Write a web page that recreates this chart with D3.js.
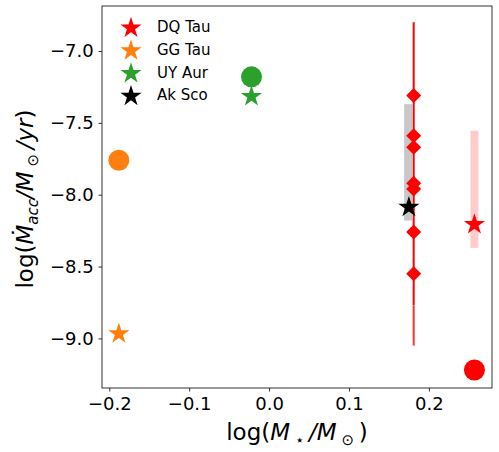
<!DOCTYPE html>
<html>
<head>
<meta charset="utf-8">
<script src="https://cdn.jsdelivr.net/npm/d3@7"></script>
<style>
  body { margin: 0; background: #fff; }
  svg text { font-family: "DejaVu Sans", sans-serif; }
</style>
</head>
<body>
<svg id="chart" width="499" height="452"></svg>
<script>
// data
const starNames = ["DQ Tau", "GG Tau", "UY Aur", "Ak Sco"];
const starColors = ["#ff0000", "#ff7f0e", "#2ca02c", "#000000"];

// star markers: [logM, logMdot]
const starPts = [[0.257, -8.20], [-0.188, -8.96], [-0.022, -7.31], [0.175, -8.08]];
// circle markers (Ak Sco has none)
const circlePts = [[0.257, -9.22], [-0.188, -7.76], [-0.022, -7.18]];
const circleColors = ["#ff0000", "#ff7f0e", "#2ca02c"];

// DQ Tau diamonds at one mass
const dqMass = 0.181;
const dqDiamonds = [-7.31, -7.59, -7.67, -7.92, -7.96, -8.26, -8.55];
const dqBar = [-6.80, -8.77];
const dqBarFaint = [-8.77, -9.05];

// shaded ranges: [x, ymin, ymax]
const rangeBars = [
  { x: 0.174, lo: -8.18, hi: -7.37, color: "#c8c8c8" },
  { x: 0.257, lo: -8.37, hi: -7.555, color: "#ffcccc" }
];

const xTicks = [-0.2, -0.1, 0.0, 0.1, 0.2];
const yTicks = [-7.0, -7.5, -8.0, -8.5, -9.0];

const svg = d3.select("#chart");
const L = 102, R = 492, T = 6, B = 388;

const x = d3.scaleLinear().domain([-0.2091, 0.279]).range([L, R]);
const y = d3.scaleLinear().domain([-6.687, -9.345]).range([T, B]);

// shaded bars
svg.selectAll("rect.rng").data(rangeBars).join("rect")
  .attr("class", "rng")
  .attr("x", d => x(d.x) - 4)
  .attr("width", 8)
  .attr("y", d => y(d.hi))
  .attr("height", d => y(d.lo) - y(d.hi))
  .style("fill", d => d.color);

// DQ Tau error line
svg.append("line")
  .attr("x1", x(dqMass)).attr("x2", x(dqMass))
  .attr("y1", y(dqBar[0])).attr("y2", y(dqBar[1]))
  .style("stroke", "#ff0000").style("stroke-width", 2);
svg.append("line")
  .attr("x1", x(dqMass)).attr("x2", x(dqMass))
  .attr("y1", y(dqBarFaint[0])).attr("y2", y(dqBarFaint[1]))
  .style("stroke", "#ff0000").style("stroke-width", 2).style("opacity", 0.8);

const diamond = d3.symbol().type(d3.symbolSquare).size(112);
svg.selectAll("path.dia").data(dqDiamonds).join("path")
  .attr("class", "dia")
  .attr("d", diamond)
  .attr("transform", d => "translate(" + x(dqMass) + "," + y(d) + ") rotate(45)")
  .style("fill", "#ff0000");

// circles
svg.selectAll("circle.pt").data(circlePts).join("circle")
  .attr("class", "pt")
  .attr("cx", d => x(d[0]))
  .attr("cy", d => y(d[1]))
  .attr("r", 10.5)
  .style("fill", (d, i) => circleColors[i]);

// stars
const star = d3.symbol().type(d3.symbolStar).size(140);
svg.selectAll("path.star").data(starPts).join("path")
  .attr("class", "star")
  .attr("d", star)
  .attr("transform", d => "translate(" + x(d[0]) + "," + (y(d[1]) + 1) + ")")
  .style("fill", (d, i) => starColors[i]);

// axes
const xAxis = d3.axisBottom(x).tickValues(xTicks).tickFormat(d3.format(".1f")).tickSize(3.5).tickSizeOuter(0);
const yAxis = d3.axisLeft(y).tickValues(yTicks).tickFormat(d3.format(".1f")).tickSize(3.5).tickSizeOuter(0);

const gx = svg.append("g").attr("transform", "translate(0," + B + ")").call(xAxis);
const gy = svg.append("g").attr("transform", "translate(" + L + ",0)").call(yAxis);
[gx, gy].forEach(g => {
  g.select(".domain").remove();
  g.selectAll("line").style("stroke", "#000").style("stroke-width", 0.8);
  g.selectAll("text").style("font-size", "18px").style("fill", "#000");
});
gx.selectAll("text").attr("dy", "0.85em");
gy.selectAll("text").attr("dx", "-0.1em");

// frame
svg.append("rect")
  .attr("x", L).attr("y", T).attr("width", R - L).attr("height", B - T)
  .style("fill", "none").style("stroke", "#000").style("stroke-width", 0.8);

// axis labels
const xl = svg.append("text")
  .attr("x", 297).attr("y", 440)
  .attr("text-anchor", "middle")
  .style("font-size", "23px");
xl.append("tspan").text("log(");
xl.append("tspan").style("font-style", "italic").text("M");
xl.append("tspan").attr("dy", 5).style("font-size", "15px").text(" \u22c6 ");
xl.append("tspan").attr("dy", -5).style("font-style", "italic").text("/M");
xl.append("tspan").attr("dy", 5).style("font-size", "15px").text(" \u2299 ");
xl.append("tspan").attr("dy", -5).text(")");

const yl = svg.append("text")
  .attr("transform", "translate(33,199) rotate(-90)")
  .attr("text-anchor", "middle")
  .style("font-size", "23px");
yl.append("tspan").text("log(");
yl.append("tspan").style("font-style", "italic").text("\u1e40");
yl.append("tspan").attr("dy", 5).style("font-size", "15px").style("font-style", "italic").text("acc");
yl.append("tspan").attr("dy", -5).style("font-style", "italic").text("/M");
yl.append("tspan").attr("dy", 5).style("font-size", "15px").text(" \u2299 ");
yl.append("tspan").attr("dy", -5).style("font-style", "italic").text("/yr");
yl.append("tspan").text(")");

// legend
const legend = svg.append("g");
starNames.forEach((name, i) => {
  const ly = 27 + i * 22.7;
  legend.append("path")
    .attr("d", star)
    .attr("transform", "translate(131," + (ly + 1) + ")")
    .style("fill", starColors[i]);
  legend.append("text")
    .attr("x", 157).attr("y", ly)
    .attr("dy", "0.35em")
    .style("font-size", "15px")
    .text(name);
});
</script>
</body>
</html>
